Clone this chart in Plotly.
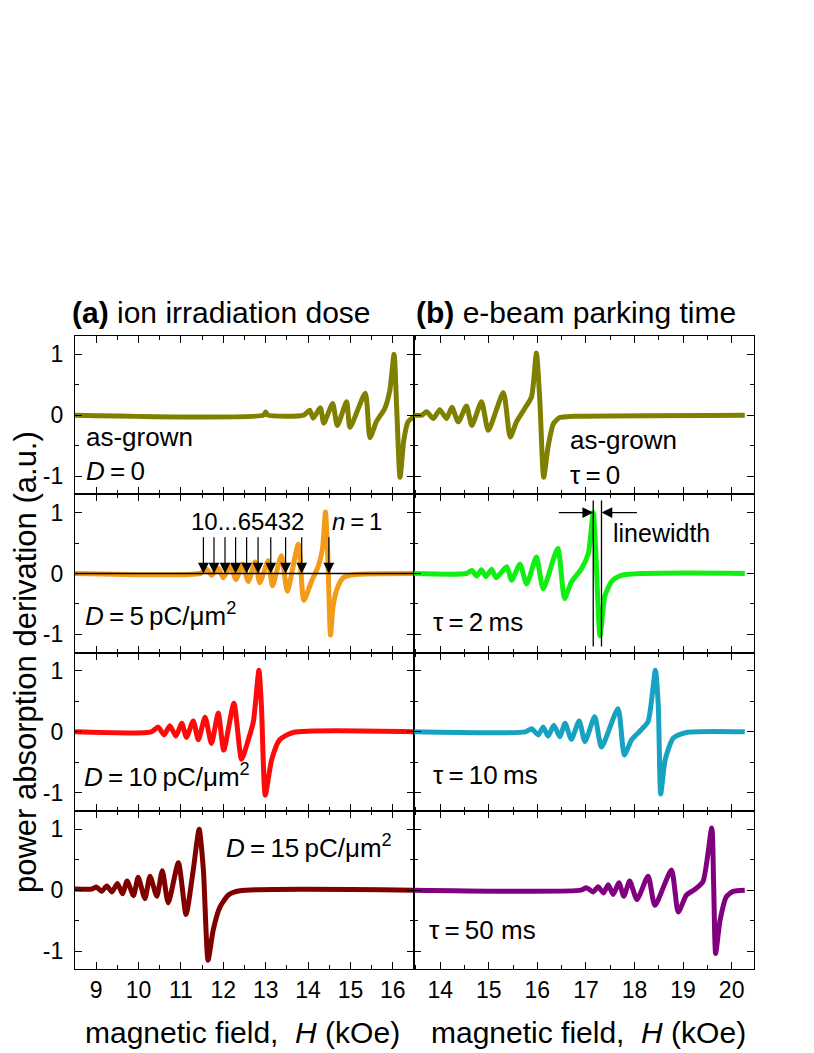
import plotly.graph_objects as go
from plotly.subplots import make_subplots

# (a) ion irradiation dose -- field H (kOe) and normalised derivative signal
a_d0_H = [8.5, 12.95, 13.0, 13.05, 13.9, 14.04, 14.12, 14.29, 14.37, 14.58, 14.69, 14.91, 14.99,
          15.35, 15.46, 15.61, 15.81, 15.93, 16.03, 16.09, 16.17, 16.26, 16.36, 16.5]
a_d0_S = [0, 0, 0.05, 0, 0, 0.08, -0.05, 0.12, -0.13, 0.19, -0.17, 0.22, -0.2,
          0.36, -0.37, -0.11, 0.11, 0.41, 1.0, 0.14, -1.02, -0.41, -0.11, -0.02]

a_d5_H = [8.5, 11.45, 11.61, 11.72, 11.88, 12.0, 12.17, 12.30, 12.45, 12.59, 12.75, 12.86, 13.06,
          13.16, 13.37, 13.51, 13.77, 13.90, 14.08, 14.24, 14.34, 14.41, 14.46, 14.53, 14.59,
          14.69, 14.83, 15.06, 16.5]
a_d5_S = [0, 0, 0.07, -0.03, 0.09, -0.07, 0.12, -0.10, 0.15, -0.13, 0.19, -0.15, 0.21,
          -0.20, 0.29, -0.29, 0.48, -0.44, -0.13, 0.12, 0.40, 1.01, 0.40, -1.01, -0.54,
          -0.24, -0.07, -0.02, 0]

a_d10_H = [8.5, 10.3, 10.46, 10.60, 10.74, 10.88, 11.02, 11.13, 11.29, 11.41, 11.57, 11.72, 11.88,
           12.01, 12.25, 12.43, 12.59, 12.71, 12.84, 12.90, 12.99, 13.14, 13.33, 13.65, 16.5]
a_d10_S = [0, 0, 0.08, -0.05, 0.10, -0.07, 0.14, -0.09, 0.18, -0.13, 0.24, -0.19, 0.31,
           -0.30, 0.47, -0.45, -0.13, 0.17, 1.01, 0.42, -1.04, -0.46, -0.13, -0.01, 0]

a_d15_H = [8.5, 8.9, 9.01, 9.13, 9.25, 9.37, 9.50, 9.62, 9.73, 9.88, 9.99, 10.15, 10.27, 10.43,
           10.56, 10.70, 10.94, 11.12, 11.29, 11.43, 11.53, 11.64, 11.76, 11.92, 12.12, 12.39, 16.5]
a_d15_S = [0.02, 0.02, 0.05, -0.02, 0.07, -0.03, 0.11, -0.06, 0.15, -0.09, 0.21, -0.14, 0.23, -0.10,
           0.32, -0.21, 0.45, -0.40, 0.33, 1.0, 0.33, -1.15, -0.66, -0.28, -0.08, -0.01, 0]

# (b) e-beam parking time
b_t0_H = [13.46, 13.62, 13.72, 13.86, 13.99, 14.13, 14.24, 14.37, 14.54, 14.65, 14.85, 14.99, 15.30,
          15.44, 15.57, 15.74, 15.88, 15.98, 16.05, 16.13, 16.22, 16.33, 16.46, 16.74, 20.27]
b_t0_S = [0, 0, 0.055, -0.055, 0.09, -0.055, 0.13, -0.11, 0.15, -0.17, 0.22, -0.25, 0.37,
          -0.36, -0.11, 0.11, 0.30, 1.02, 0.25, -1.02, -0.52, -0.14, -0.04, -0.02, 0]

b_t2_H = [13.46, 14.54, 14.65, 14.75, 14.85, 14.94, 15.06, 15.15, 15.37, 15.47, 15.64, 15.78, 15.98,
          16.12, 16.42, 16.56, 16.70, 16.91, 17.05, 17.15, 17.20, 17.29, 17.39, 17.53, 17.73, 20.27]
b_t2_S = [0, 0, 0.05, -0.04, 0.06, -0.05, 0.07, -0.07, 0.11, -0.11, 0.15, -0.17, 0.27,
          -0.25, 0.41, -0.41, -0.14, 0.08, 0.33, 1.0, 0.39, -1.02, -0.37, -0.13, -0.03, 0]

b_t10_H = [13.46, 15.75, 15.88, 16.02, 16.12, 16.22, 16.34, 16.46, 16.57, 16.70, 16.86, 16.98, 17.18,
           17.32, 17.66, 17.79, 17.94, 18.11, 18.28, 18.43, 18.49, 18.54, 18.63, 18.80, 19.07, 20.27]
b_t10_S = [0, 0, 0.05, -0.05, 0.08, -0.07, 0.11, -0.08, 0.14, -0.12, 0.18, -0.16, 0.25,
           -0.25, 0.38, -0.38, -0.13, 0.01, 0.17, 1.01, 0.42, -1.02, -0.46, -0.10, -0.01, 0]

b_t50_H = [13.46, 16.9, 17.01, 17.15, 17.25, 17.36, 17.46, 17.56, 17.68, 17.78, 17.90, 18.05, 18.28,
           18.42, 18.76, 18.90, 19.07, 19.24, 19.41, 19.59, 19.63, 19.67, 19.76, 19.89, 20.03, 20.27]
b_t50_S = [0, 0, 0.04, -0.03, 0.055, -0.045, 0.09, -0.07, 0.12, -0.10, 0.15, -0.155, 0.23,
           -0.25, 0.33, -0.36, -0.08, 0.01, 0.14, 1.02, 0.06, -1.04, -0.50, -0.11, -0.02, 0]

# mode positions marked by arrows in the D = 5 panel (n = 10 ... 1)
mode_H = [11.53, 11.78, 12.04, 12.29, 12.55, 12.82, 13.12, 13.47, 13.85, 14.49]
# linewidth markers in the tau = 2 ms panel
lw_H = [17.15, 17.32]

FONT = "Liberation Sans, Arial, sans-serif"
W, Hpx = 814, 1053
OFF = 8  # page body margin
TS = "\u2009"  # thin space


def px(x):
    return (x - OFF) / W


def py(y):
    return 1 - (y - OFF) / Hpx


panels = [
    (1, 1, a_d0_H, a_d0_S, "#808000"),
    (1, 2, b_t0_H, b_t0_S, "#808000"),
    (2, 1, a_d5_H, a_d5_S, "#F29B18"),
    (2, 2, b_t2_H, b_t2_S, "#11EE11"),
    (3, 1, a_d10_H, a_d10_S, "#FF0A0A"),
    (3, 2, b_t10_H, b_t10_S, "#18A2C2"),
    (4, 1, a_d15_H, a_d15_S, "#800000"),
    (4, 2, b_t50_H, b_t50_S, "#800080"),
]

fig = make_subplots(rows=4, cols=2, horizontal_spacing=0, vertical_spacing=0)

for r, c, h, s, col in panels:
    fig.add_trace(go.Scatter(x=h, y=s, mode="lines", line=dict(color=col, width=5, shape="spline", smoothing=0.6),
                             showlegend=False), row=r, col=c)

x_dom = [[px(75), px(414)], [px(414), px(754)]]
tops = [336, 494.3, 652.7, 811, 969.3]

for r in range(1, 5):
    ydom = [py(tops[r]), py(tops[r - 1])]
    for c in (1, 2):
        xr = [8.5, 16.5] if c == 1 else [13.46, 20.46]
        fig.update_xaxes(row=r, col=c, domain=x_dom[c - 1], range=xr, showline=True, linecolor="black",
                         linewidth=1.3, mirror="allticks", ticks="inside", ticklen=7, tickwidth=1.4,
                         tickcolor="black", tick0=0, dtick=1, showgrid=False, zeroline=False,
                         showticklabels=(r == 4), tickfont=dict(family=FONT, size=23, color="black"),
                         minor=dict(ticks="inside", dtick=0.5, tick0=0, ticklen=4, tickwidth=1.2,
                                    tickcolor="black"))
        fig.update_yaxes(row=r, col=c, domain=ydom, range=[-1.3, 1.3], showline=True, linecolor="black",
                         linewidth=1.3, mirror="allticks", ticks="inside", ticklen=7, tickwidth=1.4,
                         tickcolor="black", tickmode="array", tickvals=[-1, 0, 1], ticktext=["-1", "0", "1"],
                         showgrid=False, zeroline=False, showticklabels=(c == 1), ticklabelstandoff=6,
                         tickfont=dict(family=FONT, size=23, color="black"),
                         minor=dict(ticks="inside", tickvals=[-0.5, 0.5], ticklen=4, tickwidth=1.2,
                                    tickcolor="black"))

ann = []


def txt(text, x, y, ref, size=25, xanchor="left"):
    ann.append(dict(text=text, x=x, y=y, xref="x" + ref, yref="y" + ref, showarrow=False,
                    xanchor=xanchor, yanchor="middle", font=dict(family=FONT, size=size, color="black")))


txt("as-grown", 8.72, -0.36, "", size=26)
txt(f"<i>D</i>{TS}={TS}0", 8.72, -0.92, "", size=26)
txt("as-grown", 16.63, -0.41, "2", size=26)
txt(f"τ{TS}={TS}0", 16.63, -0.98, "2", size=26)
txt(f"<i>D</i>{TS}={TS}5{TS}pC/μm<sup>2</sup>", 8.7, -0.68, "3", size=26)
txt(f"τ{TS}={TS}2{TS}ms", 13.82, -0.79, "4", size=26)
txt(f"<i>D</i>{TS}={TS}10{TS}pC/μm<sup>2</sup>", 8.66, -0.72, "5", size=26)
txt(f"τ{TS}={TS}10{TS}ms", 13.82, -0.71, "6", size=26)
txt(f"<i>D</i>{TS}={TS}15{TS}pC/μm<sup>2</sup>", 12.02, 0.72, "7", size=26)
txt(f"τ{TS}={TS}50 ms", 13.72, -0.66, "8", size=26)
txt("10...65432", 12.58, 0.85, "3", size=24, xanchor="center")
txt(f"<i>n</i>{TS}={TS}1", 15.16, 0.85, "3", size=24, xanchor="center")
txt("linewidth", 17.52, 0.67, "4", size=25)

for h in mode_H:
    ann.append(dict(x=h, y=0.0, ax=h, ay=0.62, xref="x3", yref="y3", axref="x3", ayref="y3", text="",
                    showarrow=True, arrowhead=2, arrowsize=1.8, arrowwidth=1.2, arrowcolor="black"))

ann.append(dict(x=lw_H[0], y=1.0, ax=16.41, ay=1.0, xref="x4", yref="y4", axref="x4", ayref="y4", text="",
                showarrow=True, arrowhead=2, arrowsize=1.8, arrowwidth=1.2, arrowcolor="black"))
ann.append(dict(x=lw_H[1], y=1.0, ax=18.08, ay=1.0, xref="x4", yref="y4", axref="x4", ayref="y4", text="",
                showarrow=True, arrowhead=2, arrowsize=1.8, arrowwidth=1.2, arrowcolor="black"))

# panel headings and axis titles
ann.append(dict(text="<b>(a)</b> ion irradiation dose", x=px(70), y=py(312), xref="paper", yref="paper",
                showarrow=False, xanchor="left", yanchor="middle", font=dict(family=FONT, size=30, color="black")))
ann.append(dict(text="<b>(b)</b> e-beam parking time", x=px(414), y=py(312), xref="paper", yref="paper",
                showarrow=False, xanchor="left", yanchor="middle", font=dict(family=FONT, size=30, color="black")))
ann.append(dict(text="magnetic field,  <i>H</i> (kOe)", x=px(243), y=py(1032), xref="paper", yref="paper",
                showarrow=False, xanchor="center", yanchor="middle", font=dict(family=FONT, size=30, color="black")))
ann.append(dict(text="magnetic field,  <i>H</i> (kOe)", x=px(588), y=py(1032), xref="paper", yref="paper",
                showarrow=False, xanchor="center", yanchor="middle", font=dict(family=FONT, size=30, color="black")))
ann.append(dict(text="power absorption derivation (a.u.)", x=px(25), y=py(662), xref="paper", yref="paper",
                showarrow=False, xanchor="center", yanchor="middle", textangle=-90,
                font=dict(family=FONT, size=31, color="black")))

shapes = [dict(type="line", x0=8.5, x1=16.5, y0=0, y1=0, xref="x3", yref="y3",
               line=dict(color="black", width=1.3), layer="above")]
for h in lw_H:
    shapes.append(dict(type="line", x0=h, x1=h, y0=1.2, y1=-1.2, xref="x4", yref="y4",
                       line=dict(color="black", width=1.3), layer="above"))

fig.update_layout(width=W, height=Hpx, margin=dict(l=0, r=0, t=0, b=0), plot_bgcolor="white",
                  paper_bgcolor="white", annotations=ann, shapes=shapes, font=dict(family=FONT))

fig.write_html("out.html")
